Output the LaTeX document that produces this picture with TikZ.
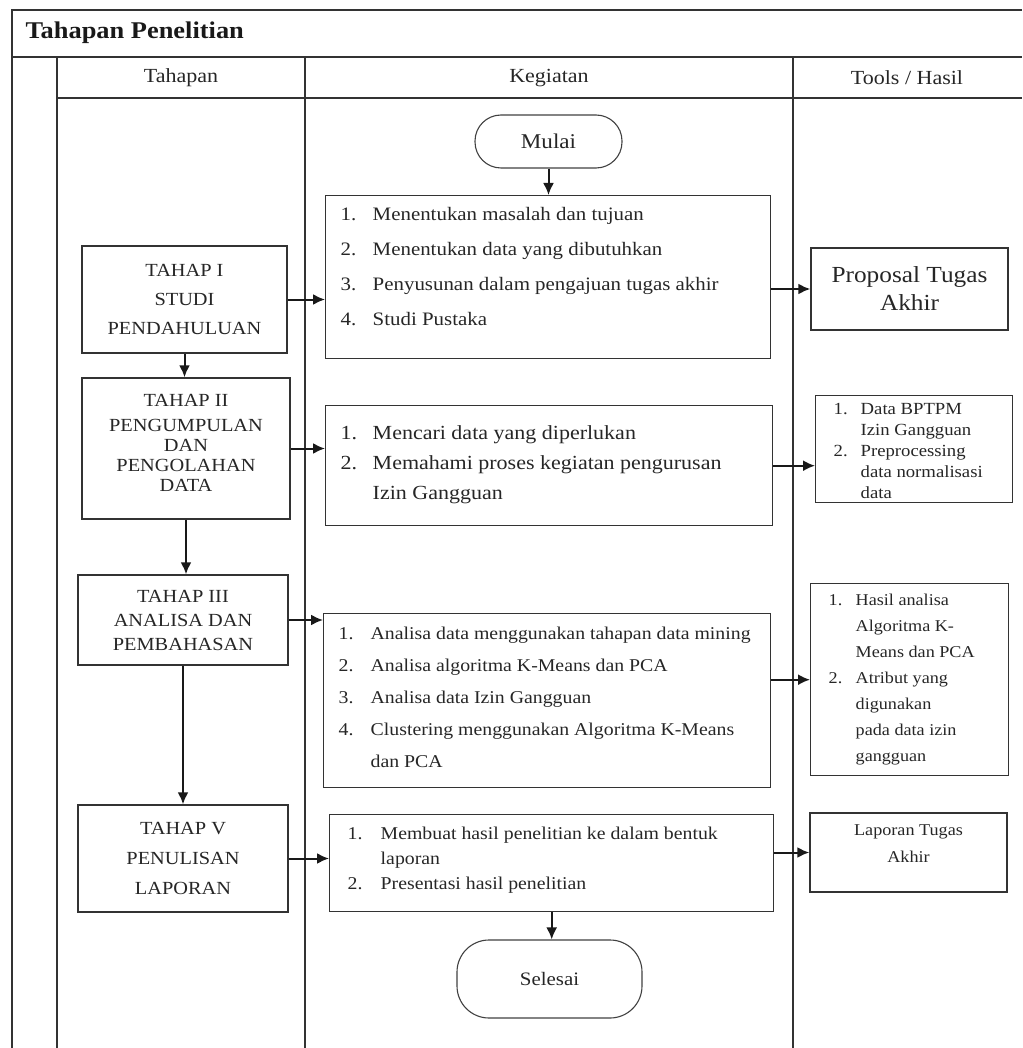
\documentclass[tikz,border=0pt]{standalone}
\usepackage{fontspec}
\setmainfont{Liberation Serif}[FakeStretch=1.1]
\usetikzlibrary{arrows.meta}

\newcommand{\daftar}[6]{\parbox[c][#2][t]{#1}{\vspace*{#3}\hspace*{#4}\begin{tabular}[t]{@{}p{#5}@{}l@{}}#6\end{tabular}}}

\tikzset{
    lane/.style={line width=1.5pt, black!80},
    tahapbox/.style={draw=black!80, line width=1.4pt, align=center, inner sep=0pt, text=black!85, font=\fontsize{18.5}{29}\selectfont},
    listbox/.style={draw=black!80, line width=1.4pt, anchor=north west, inner sep=0pt, text=black!85},
    hasilbox/.style={draw=black!80, line width=1.4pt, align=center, inner sep=0pt, text=black!85},
    terminal/.style={draw=black!75, line width=1.1pt, rounded corners=26pt, inner sep=0pt, text=black!85},
    header/.style={text=black!85, font=\fontsize{20}{24}\selectfont},
    arr/.style={-{Latex[length=12pt,width=11pt]}, line width=2pt, black!90}
}

\begin{document}
\begin{tikzpicture}[x=1pt, y=-1pt]
            \useasboundingbox (0,0) rectangle (1022,1048);

            % swimlane
            \draw[lane] (12,1048) -- (12,10) -- (1022,10);
            \draw[lane] (12,57) -- (1022,57);
            \draw[lane] (57,57) -- (57,1048);
            \draw[lane] (57,98) -- (1022,98);
            \draw[lane] (305,57) -- (305,1048);
            \draw[lane] (793,57) -- (793,1048);

            \node[anchor=west, text=black!90, font=\bfseries\fontsize{24}{28}\selectfont] (title) at (22,33) {Tahapan Penelitian};
            \node[header] (hTahapan) at (181,78) {Tahapan};
            \node[header] (hKegiatan) at (549,78) {Kegiatan};
            \node[header] (hTools) at (907,78) {Tools / Hasil};

            % tahapan
            \node[tahapbox, minimum width=205pt, minimum height=107pt] (tahap1) at (184.5,299.5) {TAHAP I\\STUDI\\PENDAHULUAN};
            \node[tahapbox, minimum width=208pt, minimum height=141pt, font=\fontsize{18.5}{20}\selectfont] (tahap2) at (186,448.5) {TAHAP II\\[5pt]PENGUMPULAN\\DAN\\PENGOLAHAN\\DATA\\[-8pt]};
            \node[tahapbox, minimum width=210pt, minimum height=90pt, font=\fontsize{18.5}{24}\selectfont] (tahap3) at (183,620) {TAHAP III\\ANALISA DAN\\PEMBAHASAN};
            \node[tahapbox, minimum width=210pt, minimum height=107pt, font=\fontsize{18.5}{30}\selectfont] (tahap5) at (183,858.5) {TAHAP V\\PENULISAN\\LAPORAN};

            % kegiatan
            \node[terminal, minimum width=147pt, minimum height=53pt, font=\fontsize{21}{24}\selectfont] (mulai) at (548.5,141.5) {Mulai};
            \node[listbox, font=\fontsize{19}{35}\selectfont] (keg1) at (325,195) {\daftar{445pt}{163pt}{0pt}{15pt}{32pt}{
                1. & Menentukan masalah dan tujuan\\
                2. & Menentukan data yang dibutuhkan\\
                3. & Penyusunan dalam pengajuan tugas akhir\\
                4. & Studi Pustaka}};
            \node[listbox, font=\fontsize{20}{30}\selectfont] (keg2) at (325,405) {\daftar{447pt}{120pt}{13pt}{15pt}{32pt}{
                1. & Mencari data yang diperlukan\\
                2. & Memahami proses kegiatan pengurusan\\
                   & Izin Gangguan}};
            \node[listbox, font=\fontsize{18}{32}\selectfont] (keg3) at (323,613) {\daftar{447pt}{174pt}{3pt}{15pt}{32pt}{
                1. & Analisa data menggunakan tahapan data mining\\
                2. & Analisa algoritma K-Means dan PCA\\
                3. & Analisa data Izin Gangguan\\
                4. & Clustering menggunakan Algoritma K-Means\\
                   & dan PCA}};
            \node[listbox, font=\fontsize{18}{25}\selectfont] (keg4) at (329,814) {\daftar{444pt}{97pt}{7pt}{18pt}{33pt}{
                1. & Membuat hasil penelitian ke dalam bentuk\\
                   & laporan\\
                2. & Presentasi hasil penelitian}};
            \node[terminal, rounded corners=32pt, minimum width=185pt, minimum height=78pt, font=\fontsize{19}{22}\selectfont] (selesai) at (549.5,979) {Selesai};

            % tools / hasil
            \node[hasilbox, minimum width=197pt, minimum height=82pt, font=\fontsize{23}{28}\selectfont] (hasil1) at (909.5,289) {Proposal Tugas\\Akhir};
            \node[listbox, font=\fontsize{17}{21}\selectfont] (hasil2) at (815,395) {\daftar{197pt}{107pt}{4pt}{18pt}{27pt}{
                1. & Data BPTPM\\
                   & Izin Gangguan\\
                2. & Preprocessing\\
                   & data normalisasi\\
                   & data}};
            \node[listbox, font=\fontsize{16.5}{26}\selectfont] (hasil3) at (810,583) {\daftar{198pt}{192pt}{4pt}{18pt}{27pt}{
                1. & Hasil analisa\\
                   & Algoritma K-\\
                   & Means dan PCA\\
                2. & Atribut yang\\
                   & digunakan\\
                   & pada data izin\\
                   & gangguan}};
            \node[hasilbox, minimum width=197pt, minimum height=79pt, font=\fontsize{16.5}{27}\selectfont] (hasil4) at (908.5,852.5) {Laporan Tugas\\Akhir\\[-10pt]};

            % arrows
            \draw[arr] (mulai.south) -- (mulai.south |- keg1.north);
            \draw[arr] (tahap1.east) -- (tahap1.east -| keg1.west);
            \draw[arr] (hasil1.west -| keg1.east) -- (hasil1.west);
            \draw[arr] (tahap1.south) -- (tahap1.south |- tahap2.north);
            \draw[arr] (tahap2.east) -- (tahap2.east -| keg2.west);
            \draw[arr] (keg2.east) -- (keg2.east -| hasil2.west);
            \draw[arr] (tahap2.south) -- (tahap2.south |- tahap3.north);
            \draw[arr] (tahap3.east) -- (tahap3.east -| keg3.west);
            \draw[arr] (hasil3.west -| keg3.east) -- (hasil3.west);
            \draw[arr] (tahap3.south) -- (tahap3.south |- tahap5.north);
            \draw[arr] (tahap5.east) -- (tahap5.east -| keg4.west);
            \draw[arr] (hasil4.west -| keg4.east) -- (hasil4.west);
            \draw[arr] (keg4.south) -- (keg4.south |- selesai.north);
        \end{tikzpicture}
\end{document}
